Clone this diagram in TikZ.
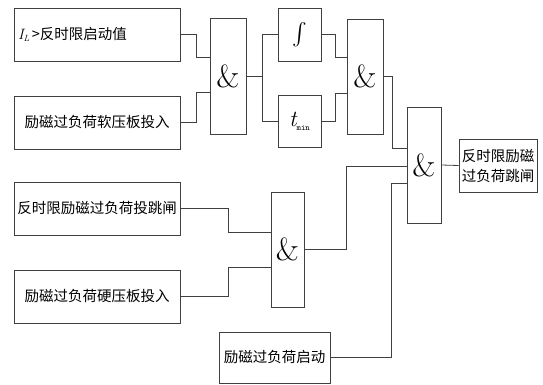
\documentclass[tikz,border=0pt]{standalone}
\usepackage{graphicx}
\usepackage{fontspec}
\newfontfamily\cjk{Noto Sans CJK SC}
\usetikzlibrary{calc}
\begin{document}
\begin{tikzpicture}[x=1pt,y=-1pt,
  ln/.style={draw=black!75, line width=0.8pt},
  box/.style={draw=black!75, line width=0.8pt, rectangle, inner sep=2pt, font=\cjk\fontsize{14.5}{20}\selectfont},
  gate/.style={draw=black!75, line width=0.8pt, rectangle, inner sep=0pt, font=\fontsize{32}{32}\selectfont}
]
\useasboundingbox (0,0) rectangle (543,385);
% input boxes
\node[box, minimum width=166pt, minimum height=53pt, text width=158pt, inner xsep=4pt, align=left] (A) at (97,34.5) {{\rmfamily\itshape\fontsize{15}{15}\selectfont I\raisebox{-2.5pt}{\fontsize{9}{9}\selectfont L}}\,>反时限启动值};
\node[box, minimum width=166pt, minimum height=53pt] (B) at (97,122.5) {励磁过负荷软压板投入};
\node[box, minimum width=166pt, minimum height=53pt] (C) at (97,208.5) {反时限励磁过负荷投跳闸};
\node[box, minimum width=166pt, minimum height=53pt] (D) at (97,296.5) {励磁过负荷硬压板投入};
\node[box, minimum width=111pt, minimum height=51pt] (E) at (274.5,357.5) {励磁过负荷启动};
% gates
\node[gate, minimum width=36pt, minimum height=116pt] (g1) at (228,76) {\&};
\node[gate, minimum width=36pt, minimum height=115pt] (g2) at (365,76.5) {\&};
\node[gate, minimum width=34pt, minimum height=116pt] (g3) at (424,165) {\&};
\node[gate, minimum width=33pt, minimum height=115pt] (g4) at (287.5,249.5) {\&};
% timing boxes
\node[box, minimum width=43pt, minimum height=53pt] (I) at (299.5,34.5) {\scalebox{2.2}{$\int$}};
\node[box, minimum width=43pt, minimum height=52pt] (T) at (299.5,121.5) {{\rmfamily\itshape\fontsize{23}{23}\selectfont t}\raisebox{-4pt}{\fontsize{8.5}{8.5}\ttfamily min}};
% output
\node[box, minimum width=78pt, minimum height=53pt, align=center] (O) at (498,165.5) {反时限励磁\\过负荷跳闸};
% connectors
\draw[ln] (A.east) -| ($(g1.west)+(-13,-19)$) -- ($(g1.west)+(0,-19)$);
\draw[ln] (B.east) -| ($(g1.west)+(-13,16)$) -- ($(g1.west)+(0,16)$);
\draw[ln] (g1.east) -- ++(16,0) coordinate (s1) |- (I.west);
\draw[ln] (s1) |- (T.west);
\draw[ln] (I.east) -| ($(g2.west)+(-11,-19.5)$) -- ($(g2.west)+(0,-19.5)$);
\draw[ln] (T.east) -| ($(g2.west)+(-11,16.5)$) -- ($(g2.west)+(0,16.5)$);
\draw[ln] (g2.east) -| ($(g3.west)+(-14,-17)$) -- ($(g3.west)+(0,-17)$);
\draw[ln] (C.east) -| ($(g4.west)+(-42,-17.5)$) -- ($(g4.west)+(0,-17.5)$);
\draw[ln] (D.east) -| ($(g4.west)+(-42,17.5)$) -- ($(g4.west)+(0,17.5)$);
\draw[ln] (g4.east) -| ($(g3.west)+(-60,1)$) -- ($(g3.west)+(0,1)$);
\draw[ln] (E.east) -| ($(g3.west)+(-15,18)$) -- ($(g3.west)+(0,18)$);
\draw[ln] (g3.east) -- (O.west);
\end{tikzpicture}
\end{document}
